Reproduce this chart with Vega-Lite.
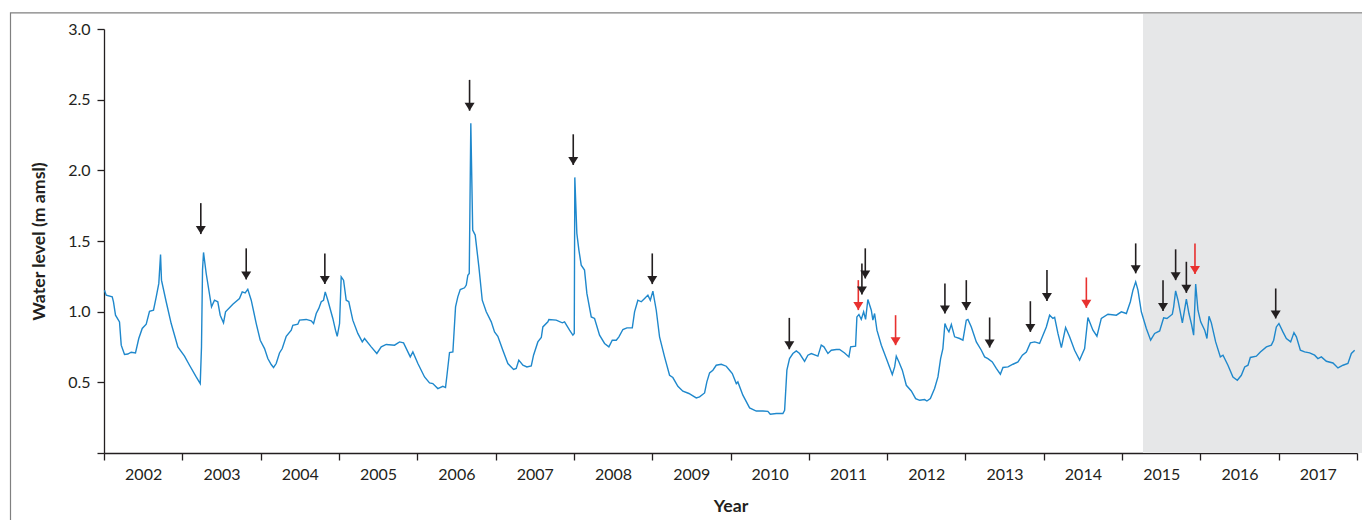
{
  "$schema": "https://vega.github.io/schema/vega-lite/v6.json",
  "width": 1253,
  "height": 424,
  "autosize": {"type": "none"},
  "padding": {"left": 104, "top": 29, "right": 5, "bottom": 67},
  "background": "white",
  "config": {
    "font": "Lato",
    "view": {"stroke": null},
    "axis": {
      "labelColor": "#231f20",
      "labelFontSize": 16,
      "titleColor": "#231f20",
      "titleFontSize": 17.7,
      "titleFontWeight": "bold",
      "domainColor": "#231f20",
      "tickColor": "#231f20",
      "domainWidth": 1.3,
      "tickWidth": 1.3,
      "grid": false
    }
  },
  "datasets": {
    "level": [
      {"t":2002.006,"v":1.152},{"t":2002.028,"v":1.117},{"t":2002.105,"v":1.105},{"t":2002.121,"v":1.07},{"t":2002.147,"v":0.975},{"t":2002.198,"v":0.928},{"t":2002.220,"v":0.763},{"t":2002.262,"v":0.697},{"t":2002.304,"v":0.70},{"t":2002.347,"v":0.713},{"t":2002.402,"v":0.708},{"t":2002.444,"v":0.81},{"t":2002.488,"v":0.881},{"t":2002.539,"v":0.911},{"t":2002.581,"v":1.003},{"t":2002.632,"v":1.01},{"t":2002.667,"v":1.105},{"t":2002.700,"v":1.2},{"t":2002.722,"v":1.405},{"t":2002.734,"v":1.223},{"t":2002.794,"v":1.07},{"t":2002.858,"v":0.916},{"t":2002.943,"v":0.751},{"t":2003.028,"v":0.685},{"t":2003.092,"v":0.621},{"t":2003.177,"v":0.538},{"t":2003.229,"v":0.491},{"t":2003.245,"v":0.751},{"t":2003.258,"v":1.294},{"t":2003.271,"v":1.419},{"t":2003.305,"v":1.27},{"t":2003.373,"v":1.034},{"t":2003.411,"v":1.081},{"t":2003.453,"v":1.07},{"t":2003.484,"v":0.975},{"t":2003.526,"v":0.921},{"t":2003.552,"v":0.999},{"t":2003.645,"v":1.053},{"t":2003.730,"v":1.093},{"t":2003.765,"v":1.14},{"t":2003.803,"v":1.133},{"t":2003.836,"v":1.159},{"t":2003.880,"v":1.081},{"t":2003.944,"v":0.916},{"t":2003.995,"v":0.798},{"t":2004.050,"v":0.739},{"t":2004.092,"v":0.668},{"t":2004.135,"v":0.626},{"t":2004.165,"v":0.605},{"t":2004.199,"v":0.633},{"t":2004.241,"v":0.708},{"t":2004.276,"v":0.739},{"t":2004.327,"v":0.826},{"t":2004.391,"v":0.869},{"t":2004.411,"v":0.904},{"t":2004.475,"v":0.911},{"t":2004.497,"v":0.94},{"t":2004.582,"v":0.945},{"t":2004.646,"v":0.935},{"t":2004.676,"v":0.916},{"t":2004.710,"v":0.987},{"t":2004.743,"v":1.023},{"t":2004.774,"v":1.07},{"t":2004.803,"v":1.081},{"t":2004.825,"v":1.14},{"t":2004.858,"v":1.081},{"t":2004.922,"v":0.952},{"t":2004.956,"v":0.869},{"t":2004.978,"v":0.826},
      {"t":2005.008,"v":0.916},{"t":2005.029,"v":1.246},{"t":2005.059,"v":1.223},{"t":2005.093,"v":1.081},{"t":2005.126,"v":1.07},{"t":2005.177,"v":0.94},{"t":2005.241,"v":0.846},{"t":2005.298,"v":0.786},{"t":2005.327,"v":0.81},{"t":2005.412,"v":0.751},{"t":2005.484,"v":0.704},{"t":2005.540,"v":0.751},{"t":2005.604,"v":0.768},{"t":2005.710,"v":0.763},{"t":2005.774,"v":0.786},{"t":2005.825,"v":0.779},{"t":2005.911,"v":0.68},{"t":2005.944,"v":0.715},{"t":2006.008,"v":0.633},{"t":2006.093,"v":0.538},{"t":2006.157,"v":0.496},{"t":2006.199,"v":0.491},{"t":2006.263,"v":0.456},{"t":2006.327,"v":0.472},{"t":2006.361,"v":0.463},{"t":2006.378,"v":0.543},{"t":2006.412,"v":0.711},{"t":2006.455,"v":0.715},{"t":2006.489,"v":1.034},{"t":2006.518,"v":1.105},{"t":2006.549,"v":1.157},{"t":2006.604,"v":1.169},{"t":2006.626,"v":1.188},{"t":2006.646,"v":1.258},{"t":2006.664,"v":1.27},{"t":2006.684,"v":2.333},{"t":2006.708,"v":1.577},{"t":2006.740,"v":1.542},{"t":2006.787,"v":1.317},{"t":2006.830,"v":1.081},{"t":2006.881,"v":0.999},{"t":2006.945,"v":0.928},{"t":2006.987,"v":0.857},{"t":2007.029,"v":0.826},{"t":2007.093,"v":0.727},{"t":2007.157,"v":0.633},{"t":2007.230,"v":0.591},{"t":2007.264,"v":0.598},{"t":2007.297,"v":0.657},{"t":2007.349,"v":0.621},{"t":2007.400,"v":0.609},{"t":2007.456,"v":0.616},{"t":2007.485,"v":0.692},{"t":2007.540,"v":0.786},{"t":2007.584,"v":0.817},{"t":2007.604,"v":0.892},{"t":2007.668,"v":0.928},{"t":2007.681,"v":0.945},{"t":2007.775,"v":0.94},{"t":2007.852,"v":0.921},{"t":2007.881,"v":0.928},{"t":2007.945,"v":0.869},{"t":2007.987,"v":0.834},{"t":2008.005,"v":0.846},{"t":2008.012,"v":1.95},{"t":2008.038,"v":1.554},{"t":2008.064,"v":1.436},{"t":2008.094,"v":1.329},{"t":2008.136,"v":1.294},{"t":2008.166,"v":1.129},
      {"t":2008.222,"v":0.963},{"t":2008.264,"v":0.952},{"t":2008.328,"v":0.834},{"t":2008.392,"v":0.775},{"t":2008.447,"v":0.751},{"t":2008.490,"v":0.798},{"t":2008.541,"v":0.798},{"t":2008.575,"v":0.822},{"t":2008.626,"v":0.874},{"t":2008.677,"v":0.885},{"t":2008.746,"v":0.885},{"t":2008.775,"v":0.999},{"t":2008.817,"v":1.081},{"t":2008.861,"v":1.07},{"t":2008.903,"v":1.093},{"t":2008.945,"v":1.117},{"t":2008.976,"v":1.081},{"t":2009.009,"v":1.145},{"t":2009.052,"v":1.01},{"t":2009.094,"v":0.822},{"t":2009.158,"v":0.68},{"t":2009.222,"v":0.55},{"t":2009.264,"v":0.534},{"t":2009.328,"v":0.472},{"t":2009.392,"v":0.437},{"t":2009.469,"v":0.421},{"t":2009.520,"v":0.404},{"t":2009.563,"v":0.39},{"t":2009.605,"v":0.397},{"t":2009.669,"v":0.425},{"t":2009.698,"v":0.503},{"t":2009.733,"v":0.567},{"t":2009.775,"v":0.586},{"t":2009.818,"v":0.621},{"t":2009.882,"v":0.628},{"t":2009.946,"v":0.614},{"t":2009.988,"v":0.586},{"t":2010.023,"v":0.562},{"t":2010.074,"v":0.491},{"t":2010.094,"v":0.503},{"t":2010.158,"v":0.409},{"t":2010.244,"v":0.319},{"t":2010.329,"v":0.297},{"t":2010.414,"v":0.297},{"t":2010.477,"v":0.295},{"t":2010.508,"v":0.274},{"t":2010.585,"v":0.279},{"t":2010.669,"v":0.279},{"t":2010.691,"v":0.302},{"t":2010.720,"v":0.586},{"t":2010.754,"v":0.668},{"t":2010.797,"v":0.704},{"t":2010.840,"v":0.722},{"t":2010.882,"v":0.704},{"t":2010.946,"v":0.649},{"t":2010.988,"v":0.692},{"t":2011.032,"v":0.704},{"t":2011.116,"v":0.685},{"t":2011.159,"v":0.763},{"t":2011.193,"v":0.751},{"t":2011.244,"v":0.704},{"t":2011.287,"v":0.727},{"t":2011.351,"v":0.732},
      {"t":2011.393,"v":0.732},{"t":2011.457,"v":0.708},{"t":2011.512,"v":0.68},{"t":2011.534,"v":0.751},{"t":2011.597,"v":0.756},{"t":2011.614,"v":0.963},{"t":2011.640,"v":0.98},{"t":2011.670,"v":0.945},{"t":2011.700,"v":0.999},{"t":2011.725,"v":0.945},{"t":2011.754,"v":1.086},{"t":2011.798,"v":1.01},{"t":2011.818,"v":0.94},{"t":2011.840,"v":0.987},{"t":2011.870,"v":0.869},{"t":2011.926,"v":0.763},{"t":2011.990,"v":0.668},{"t":2012.066,"v":0.555},{"t":2012.096,"v":0.609},{"t":2012.117,"v":0.685},{"t":2012.151,"v":0.644},{"t":2012.194,"v":0.586},{"t":2012.245,"v":0.479},{"t":2012.309,"v":0.439},{"t":2012.364,"v":0.385},{"t":2012.415,"v":0.373},{"t":2012.479,"v":0.378},{"t":2012.508,"v":0.368},{"t":2012.552,"v":0.385},{"t":2012.606,"v":0.456},{"t":2012.649,"v":0.538},{"t":2012.683,"v":0.668},{"t":2012.712,"v":0.739},{"t":2012.738,"v":0.916},{"t":2012.763,"v":0.881},{"t":2012.789,"v":0.857},{"t":2012.820,"v":0.909},{"t":2012.862,"v":0.822},{"t":2012.926,"v":0.81},{"t":2012.968,"v":0.798},{"t":2013.011,"v":0.94},{"t":2013.032,"v":0.945},{"t":2013.075,"v":0.892},{"t":2013.139,"v":0.786},{"t":2013.203,"v":0.727},{"t":2013.245,"v":0.68},{"t":2013.287,"v":0.668},{"t":2013.343,"v":0.644},{"t":2013.394,"v":0.598},{"t":2013.446,"v":0.557},{"t":2013.479,"v":0.605},{"t":2013.543,"v":0.609},{"t":2013.607,"v":0.628},{"t":2013.671,"v":0.644},{"t":2013.727,"v":0.692},{"t":2013.778,"v":0.715},{"t":2013.829,"v":0.779},{"t":2013.884,"v":0.786},{"t":2013.947,"v":0.775},{"t":2013.982,"v":0.822},{"t":2014.033,"v":0.892},{"t":2014.075,"v":0.975},{"t":2014.117,"v":0.952},{"t":2014.139,"v":0.959},{"t":2014.181,"v":0.846},{"t":2014.225,"v":0.746},{"t":2014.279,"v":0.888},{"t":2014.330,"v":0.822},{"t":2014.394,"v":0.727},{"t":2014.458,"v":0.657},{"t":2014.522,"v":0.739},{"t":2014.564,"v":0.959},{"t":2014.628,"v":0.869},
      {"t":2014.679,"v":0.826},{"t":2014.735,"v":0.952},{"t":2014.820,"v":0.982},{"t":2014.927,"v":0.975},{"t":2014.991,"v":0.999},{"t":2015.055,"v":0.987},{"t":2015.106,"v":1.07},{"t":2015.139,"v":1.152},{"t":2015.174,"v":1.211},{"t":2015.203,"v":1.152},{"t":2015.246,"v":0.999},{"t":2015.310,"v":0.881},{"t":2015.365,"v":0.798},{"t":2015.416,"v":0.846},{"t":2015.480,"v":0.864},{"t":2015.531,"v":0.956},{"t":2015.573,"v":0.952},{"t":2015.642,"v":0.982},{"t":2015.659,"v":1.034},{"t":2015.684,"v":1.147},{"t":2015.714,"v":1.081},{"t":2015.770,"v":0.921},{"t":2015.821,"v":1.089},{"t":2015.854,"v":0.987},{"t":2015.885,"v":0.916},{"t":2015.914,"v":0.834},{"t":2015.940,"v":1.195},{"t":2015.969,"v":1.01},{"t":2016.004,"v":0.928},{"t":2016.055,"v":0.869},{"t":2016.084,"v":0.81},{"t":2016.110,"v":0.968},{"t":2016.140,"v":0.921},{"t":2016.195,"v":0.786},{"t":2016.255,"v":0.68},{"t":2016.289,"v":0.692},{"t":2016.352,"v":0.621},{"t":2016.416,"v":0.538},{"t":2016.472,"v":0.515},{"t":2016.523,"v":0.55},{"t":2016.566,"v":0.609},{"t":2016.608,"v":0.621},{"t":2016.638,"v":0.676},{"t":2016.715,"v":0.685},{"t":2016.766,"v":0.715},{"t":2016.843,"v":0.751},{"t":2016.906,"v":0.763},{"t":2016.936,"v":0.798},{"t":2016.970,"v":0.892},{"t":2017.003,"v":0.916},{"t":2017.054,"v":0.857},{"t":2017.098,"v":0.81},{"t":2017.153,"v":0.786},{"t":2017.195,"v":0.852},{"t":2017.226,"v":0.822},{"t":2017.277,"v":0.727},{"t":2017.331,"v":0.715},{"t":2017.395,"v":0.708},{"t":2017.459,"v":0.692},{"t":2017.501,"v":0.668},{"t":2017.545,"v":0.68},{"t":2017.609,"v":0.649},{"t":2017.693,"v":0.637},{"t":2017.757,"v":0.602},{"t":2017.821,"v":0.621},{"t":2017.884,"v":0.633},{"t":2017.928,"v":0.704},{"t":2017.970,"v":0.727}
    ],
    "arrows": [
      {"t":2003.236,"top":1.768,"tip":1.549,"kind":"black"},
      {"t":2003.816,"top":1.448,"tip":1.228,"kind":"black"},
      {"t":2004.820,"top":1.412,"tip":1.195,"kind":"black"},
      {"t":2006.668,"top":2.640,"tip":2.422,"kind":"black"},
      {"t":2007.992,"top":2.255,"tip":2.038,"kind":"black"},
      {"t":2009.001,"top":1.412,"tip":1.195,"kind":"black"},
      {"t":2010.751,"top":0.956,"tip":0.734,"kind":"black"},
      {"t":2011.721,"top":1.448,"tip":1.235,"kind":"black"},
      {"t":2011.678,"top":1.341,"tip":1.122,"kind":"black"},
      {"t":2011.632,"top":1.223,"tip":1.011,"kind":"red"},
      {"t":2012.108,"top":0.975,"tip":0.763,"kind":"red"},
      {"t":2012.738,"top":1.200,"tip":0.987,"kind":"black"},
      {"t":2013.011,"top":1.223,"tip":1.011,"kind":"black"},
      {"t":2013.309,"top":0.959,"tip":0.746,"kind":"black"},
      {"t":2013.829,"top":1.074,"tip":0.857,"kind":"black"},
      {"t":2014.041,"top":1.294,"tip":1.076,"kind":"black"},
      {"t":2014.544,"top":1.242,"tip":1.027,"kind":"red"},
      {"t":2015.174,"top":1.483,"tip":1.271,"kind":"black"},
      {"t":2015.523,"top":1.223,"tip":1.004,"kind":"black"},
      {"t":2015.684,"top":1.441,"tip":1.223,"kind":"black"},
      {"t":2015.821,"top":1.353,"tip":1.133,"kind":"black"},
      {"t":2015.931,"top":1.483,"tip":1.266,"kind":"red"},
      {"t":2016.962,"top":1.164,"tip":0.952,"kind":"black"}
    ]
  },
  "resolve": {"axis": {"x": "independent", "y": "independent"}},
  "layer": [
    {
      "data": {"values": [{"x1": 2015.267, "x2": 2018.1, "y1": 0, "y2": 3.107}]},
      "mark": {"type": "rect", "fill": "#e6e7e8"},
      "encoding": {
        "x": {"field": "x1", "type": "quantitative", "scale": {"domain": [2002, 2018], "nice": false, "zero": false},
          "axis": {"orient": "bottom", "values": [2002.5,2003.5,2004.5,2005.5,2006.5,2007.5,2008.5,2009.5,2010.5,2011.5,2012.5,2013.5,2014.5,2015.5,2016.5,2017.5],
            "ticks": false, "domain": false, "labelExpr": "floor(datum.value)", "labelPadding": 13, "labelBaseline": "top", "title": "Year", "titlePadding": 15}},
        "x2": {"field": "x2"},
        "y": {"field": "y1", "type": "quantitative", "scale": {"domain": [0, 3], "nice": false}, "axis": null},
        "y2": {"field": "y2"}
      }
    },
    {
      "data": {"values": [{"x1": 2000.806, "x2": 2018.4, "y1": -0.7, "y2": 3.114}]},
      "mark": {"type": "rect", "fill": null, "stroke": "#808080", "strokeWidth": 1.2},
      "encoding": {
        "x": {"field": "x1", "type": "quantitative", "scale": {"domain": [2002, 2018], "nice": false, "zero": false}, "axis": null},
        "x2": {"field": "x2"},
        "y": {"field": "y1", "type": "quantitative", "scale": {"domain": [0, 3], "nice": false}, "axis": null},
        "y2": {"field": "y2"}
      }
    },
    {
      "data": {"name": "level"},
      "mark": {"type": "line", "color": "#1f88cc", "strokeWidth": 1.4, "interpolate": "linear"},
      "encoding": {
        "x": {"field": "t", "type": "quantitative", "scale": {"domain": [2002, 2018], "nice": false, "zero": false},
          "axis": {"orient": "bottom", "values": [2002,2003,2004,2005,2006,2007,2008,2009,2010,2011,2012,2013,2014,2015,2016,2017,2018], "labels": false, "tickSize": 7, "title": null}},
        "y": {"field": "v", "type": "quantitative", "scale": {"domain": [0, 3], "nice": false},
          "axis": {"orient": "left", "values": [0, 0.5, 1, 1.5, 2, 2.5, 3], "labelExpr": "datum.value == 0 ? '' : format(datum.value, '.1f')", "tickSize": 7, "labelPadding": 7, "title": "Water level (m amsl)", "titlePadding": 19}}
      }
    },
    {
      "data": {"name": "arrows"},
      "mark": {"type": "rule", "strokeWidth": 1.6},
      "encoding": {
        "x": {"field": "t", "type": "quantitative", "scale": {"domain": [2002, 2018], "nice": false, "zero": false}, "axis": null},
        "y": {"field": "top", "type": "quantitative", "scale": {"domain": [0, 3], "nice": false}, "axis": null},
        "y2": {"field": "tip"},
        "color": {"field": "kind", "type": "nominal", "scale": {"domain": ["black", "red"], "range": ["#231f20", "#e8312f"]}, "legend": null}
      }
    },
    {
      "data": {"name": "arrows"},
      "mark": {"type": "point", "shape": "M-1,-1.6L1,-1.6L0,0Z", "size": 100, "filled": true, "opacity": 1, "strokeWidth": 0},
      "encoding": {
        "x": {"field": "t", "type": "quantitative", "scale": {"domain": [2002, 2018], "nice": false, "zero": false}, "axis": null},
        "y": {"field": "tip", "type": "quantitative", "scale": {"domain": [0, 3], "nice": false}, "axis": null},
        "color": {"field": "kind", "type": "nominal", "scale": {"domain": ["black", "red"], "range": ["#231f20", "#e8312f"]}, "legend": null}
      }
    }
  ]
}
